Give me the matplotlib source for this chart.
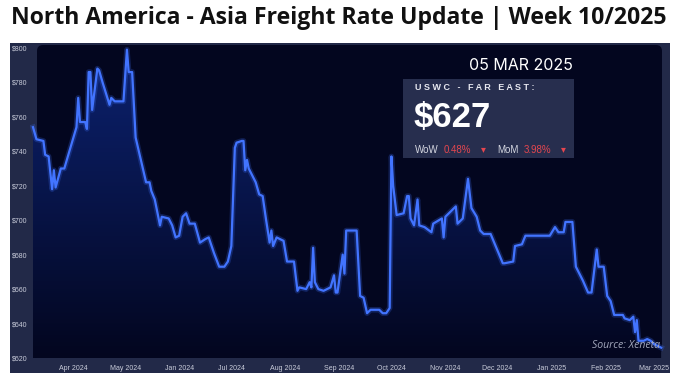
import matplotlib
matplotlib.use("Agg")
import matplotlib.pyplot as plt
import matplotlib.dates as mdates
import numpy as np
import pandas as pd
from matplotlib.colors import LinearSegmentedColormap
from matplotlib.patches import FancyBboxPatch, Rectangle, Polygon

# USWC -> Far East rate (USD/FEU)
dates = [
    "2024-03-09", "2024-03-11", "2024-03-15", "2024-03-16", "2024-03-18", "2024-03-20",
    "2024-03-21", "2024-03-22", "2024-03-25", "2024-03-27", "2024-04-03", "2024-04-04",
    "2024-04-05", "2024-04-08", "2024-04-09", "2024-04-10", "2024-04-11", "2024-04-12",
    "2024-04-15", "2024-04-16", "2024-04-18", "2024-04-22", "2024-04-23", "2024-04-25",
    "2024-04-30", "2024-05-02", "2024-05-03", "2024-05-05", "2024-05-07", "2024-05-13",
    "2024-05-15", "2024-05-16", "2024-05-18", "2024-05-21", "2024-05-22", "2024-05-26",
    "2024-05-28", "2024-05-30", "2024-06-01", "2024-06-03", "2024-06-05", "2024-06-07",
    "2024-06-10", "2024-06-13", "2024-06-16", "2024-06-18", "2024-06-21", "2024-06-24",
    "2024-06-27", "2024-06-29", "2024-07-01", "2024-07-03", "2024-07-04", "2024-07-07",
    "2024-07-08", "2024-07-09", "2024-07-10", "2024-07-11", "2024-07-13", "2024-07-15",
    "2024-07-17", "2024-07-19", "2024-07-21", "2024-07-23", "2024-07-24", "2024-07-25",
    "2024-07-27", "2024-07-31", "2024-08-02", "2024-08-06", "2024-08-08", "2024-08-09",
    "2024-08-13", "2024-08-15", "2024-08-16", "2024-08-17", "2024-08-18", "2024-08-20",
    "2024-08-23", "2024-08-27", "2024-08-29", "2024-08-30", "2024-08-31", "2024-09-03",
    "2024-09-04", "2024-09-05", "2024-09-11", "2024-09-13", "2024-09-15", "2024-09-17",
    "2024-09-19", "2024-09-24", "2024-09-26", "2024-09-28", "2024-09-30", "2024-10-01",
    "2024-10-02", "2024-10-04", "2024-10-08", "2024-10-10", "2024-10-11", "2024-10-12",
    "2024-10-14", "2024-10-16", "2024-10-17", "2024-10-20", "2024-10-24", "2024-10-25",
    "2024-10-30", "2024-10-31", "2024-11-01", "2024-11-04", "2024-11-07", "2024-11-08",
    "2024-11-11", "2024-11-14", "2024-11-16", "2024-11-19", "2024-11-21", "2024-11-23",
    "2024-11-27", "2024-12-04", "2024-12-05", "2024-12-10", "2024-12-11", "2024-12-15",
    "2024-12-17", "2024-12-31", "2025-01-03", "2025-01-05", "2025-01-08", "2025-01-09",
    "2025-01-13", "2025-01-15", "2025-01-19", "2025-01-22", "2025-01-24", "2025-01-27",
    "2025-01-28", "2025-01-31", "2025-02-02", "2025-02-04", "2025-02-06", "2025-02-11",
    "2025-02-12", "2025-02-15", "2025-02-17", "2025-02-18", "2025-02-19", "2025-02-20",
    "2025-02-23", "2025-02-25", "2025-02-27", "2025-03-01", "2025-03-05",
]
rates = [
    754, 747, 746, 738, 737, 718,
    729, 719, 730, 730, 754, 771,
    757, 757, 753, 786, 786, 764,
    788, 787, 780, 767, 771, 769,
    769, 799, 786, 786, 748, 722,
    722, 717, 712, 697, 702, 701,
    697, 690, 691, 702, 704, 698,
    698, 687, 689, 690, 681, 673,
    673, 676, 685, 742, 745, 746,
    746, 729, 735, 730, 726, 722,
    715, 714, 700, 687, 694, 685,
    690, 688, 676, 676, 659, 661,
    660, 664, 661, 684, 664, 660,
    659, 661, 668, 658, 658, 680,
    669, 694, 694, 656, 655, 646,
    648, 648, 646, 646, 649, 737,
    720, 703, 704, 714, 714, 701,
    697, 712, 697, 696, 693, 698,
    701, 690, 702, 705, 708, 698,
    701, 724, 707, 702, 694, 692,
    692, 675, 675, 676, 685, 686,
    691, 691, 696, 693, 693, 699,
    699, 673, 665, 658, 658, 683,
    673, 673, 656, 653, 645, 645,
    643, 642, 644, 635, 642, 630,
    630, 631, 630, 628, 626,
]
tick_months = ["2024-04-01", "2024-05-01", "2024-06-01", "2024-07-01", "2024-08-01",
               "2024-09-01", "2024-10-01", "2024-11-01", "2024-12-01", "2025-01-01",
               "2025-02-01", "2025-03-01"]
tick_labels = ["Apr 2024", "May 2024", "Jan 2024", "Jul 2024", "Aug 2024", "Sep 2024",
               "Oct 2024", "Nov 2024", "Dec 2024", "Jan 2025", "Feb 2025", "Mar 2025"]
y_ticks = [620, 640, 660, 680, 700, 720, 740, 760, 780, 800]

W, H = 678, 386
fig = plt.figure(figsize=(W / 100, H / 100), dpi=100)
fig.patch.set_facecolor("white")


def inch(x, y):
    # pixel (from top-left) -> inches (from bottom-left)
    return x / 100, (H - y) / 100


def ftext(x, y, s, **kw):
    fig.text(x / W, 1 - y / H, s, **kw)


# outer navy panel
x0, y0 = inch(10, 373)
fig.patches.append(Rectangle((x0, y0), 660 / 100, 330 / 100, transform=fig.dpi_scale_trans,
                             facecolor="#222948", edgecolor="none", zorder=0))
# inner dark plot area
x0, y0 = inch(37, 354)
fig.patches.append(FancyBboxPatch((x0, y0), 625 / 100, 309 / 100, transform=fig.dpi_scale_trans,
                                  boxstyle="round,pad=0,rounding_size=0.06",
                                  facecolor="#03061f", edgecolor="none", zorder=0.5))

ax = fig.add_axes([30 / W, 1 - 358 / H, 636 / W, 313 / H])
ax.set_zorder(2)
ax.set_facecolor("none")
for s in ax.spines.values():
    s.set_visible(False)

xd = pd.to_datetime(dates)
xn = mdates.date2num(xd)
x_lo = mdates.date2num(pd.Timestamp("2024-03-07 07:00"))
x_hi = mdates.date2num(pd.Timestamp("2025-03-07 19:00"))
y_lo, y_hi = 620, 801.7

# gradient fill under the line
cmap = LinearSegmentedColormap.from_list("fill", ["#03061f", "#0c2270"])
grad = np.linspace(1, 0, 256).reshape(-1, 1)
im = ax.imshow(grad, extent=[xn[0], xn[-1], y_lo, max(rates)], aspect="auto",
               cmap=cmap, origin="upper", zorder=1)
poly = Polygon(np.column_stack([np.r_[xn, xn[-1], xn[0]], np.r_[rates, y_lo, y_lo]]),
               closed=True, facecolor="none", edgecolor="none", transform=ax.transData)
ax.add_patch(poly)
im.set_clip_path(poly)

ax.plot(xn, rates, color="#3c6df5", lw=4, alpha=0.25, zorder=2, solid_joinstyle="round")
ax.plot(xn, rates, color="#4274ff", lw=1.6, zorder=3, solid_joinstyle="round")

ax.set_xlim(x_lo, x_hi)
ax.set_ylim(y_lo, y_hi)
ax.set_yticks(y_ticks)
ax.set_yticklabels([f"${v}" for v in y_ticks])
ax.set_xticks(mdates.date2num(pd.to_datetime(tick_months)))
ax.set_xticklabels(tick_labels)
ax.tick_params(axis="both", length=0, colors="#c9ccda", labelsize=5,
               labelfontfamily="Liberation Sans")
ax.tick_params(axis="y", pad=1.5)
ax.tick_params(axis="x", pad=5)

# title
ftext(339, 18, "North America - Asia Freight Rate Update | Week 10/2025",
      ha="center", va="center", fontsize=16.6, fontweight="bold",
      family="Open Sans", color="#111111")

# info box
x0, y0 = inch(403, 158)
fig.patches.append(Rectangle((x0, y0), 171 / 100, 79 / 100, transform=fig.dpi_scale_trans,
                             facecolor="#2a3151", edgecolor="none", alpha=0.95, zorder=5))
ftext(573, 65, "05 MAR 2025", ha="right", va="center", fontsize=11.5,
      family="Inter", color="white", zorder=6)
ftext(415, 88, "U S W C   -   F A R   E A S T :", ha="left", va="center", fontsize=6.5,
      fontweight="bold", family="Liberation Sans", color="#e6e7ef", zorder=6)
ftext(414, 117, "$627", ha="left", va="center", fontsize=25, fontweight="bold",
      family="Liberation Sans", color="white", zorder=6)
small = dict(va="center", fontsize=7, family=["Liberation Sans", "DejaVu Sans"], zorder=6)
ftext(415, 150, "WoW", ha="left", color="#d4d6e0", **small)
ftext(444, 150, "0.48%", ha="left", color="#e5464f", **small)
ftext(481, 149, "\u25be", ha="left", color="#e5464f", **small)
ftext(497, 150, "MoM", ha="left", color="#d4d6e0", **small)
ftext(524, 150, "3.98%", ha="left", color="#e5464f", **small)
ftext(561, 149, "\u25be", ha="left", color="#e5464f", **small)

ftext(660, 346, "Source: Xeneta", ha="right", va="center", fontsize=7.6,
      style="italic", family="Open Sans", color="#a3a8bd", zorder=6)

fig.savefig("out.png", dpi=100, facecolor="white")
